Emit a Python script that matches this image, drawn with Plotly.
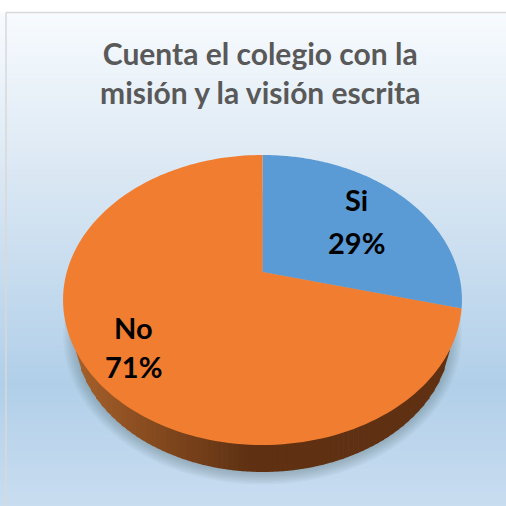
import numpy as np
import plotly.graph_objects as go

title_lines = ["Cuenta el colegio con la", "misión y la visión escrita"]
categories = ["Si", "No"]
values = [29, 71]
slice_colors = ["#5B9BD5", "#F07D30"]

# perspective pie, all in page pixels
cx, apex_y = 262.5, 272
rx = 195.7
persp = 0.193
y_a = -87.1


def rim(theta):
    # theta clockwise from the top of the pie
    u, v = np.sin(theta), np.cos(theta)
    d = persp * v + 1
    return cx + rx * u / d, (y_a * v + apex_y) / d


def ellipse(ex, ey, erx, ery):
    t = np.linspace(0, 2 * np.pi, 200)
    return ex + erx * np.cos(t), ey + ery * np.sin(t)


fig = go.Figure()

# background gradient
grad_y = np.arange(13, 507)
fig.add_trace(go.Heatmap(
    x=[6, 506], y=grad_y,
    z=[[yy, yy] for yy in grad_y],
    zmin=13, zmax=506,
    colorscale=[[0, "#F7FBFE"], [0.3, "#DDE9F4"], [0.75, "#B1CFE9"], [1, "#C9DDF0"]],
    zsmooth="best", showscale=False, hoverinfo="skip",
))

# soft shadow under the pie
for i in range(8):
    sx, sy = ellipse(cx, 336, 188 + i * 1.6, 138 + i * 1.5)
    fig.add_trace(go.Scatter(x=sx, y=sy, mode="none", fill="toself",
                             fillcolor="rgba(70,85,100,0.045)", hoverinfo="skip"))

# side of the pie: strips between the bottom ellipse and the rim
edges = np.linspace(76, 449, 75)
for a, b in zip(edges[:-1], edges[1:]):
    xs = np.array([a, b])
    bottom = 334 + 138 * np.sqrt(np.clip(1 - ((xs - cx) / 188) ** 2, 0, 1))
    top = 300 + 145 * np.sqrt(np.clip(1 - ((xs - cx) / 199.5) ** 2, 0, 1)) - 3
    f = min(max((a - 76) / 170, 0), 1)
    col = "rgb(%d,%d,%d)" % (165 - 70 * f, 95 - 46 * f, 42 - 24 * f)
    fig.add_trace(go.Scatter(x=[a, b + 0.6, b + 0.6, a], y=[top[0], top[1], bottom[1], bottom[0]],
                             mode="none", fill="toself", fillcolor=col, hoverinfo="skip"))

# top face slices
total = sum(values)
start = 0
for name, val, col in zip(categories, values, slice_colors):
    th = np.linspace(start, start + val / total, 160) * 2 * np.pi
    rx_pts, ry_pts = rim(th)
    fig.add_trace(go.Scatter(x=[cx, *rx_pts, cx], y=[apex_y, *ry_pts, apex_y],
                             mode="none", fill="toself", fillcolor=col, name=name,
                             hoverinfo="skip"))
    start += val / total

annotations = [dict(x=260, y=72, xref="x", yref="y",
                    text="<br>".join(title_lines), showarrow=False,
                    font=dict(family="Lato", size=30, color="#595959", weight="bold"))]
label_pos = [(356, 199, 242), (133, 327, 366)]
for name, val, (lx, ly1, ly2) in zip(categories, values, label_pos):
    for txt, ly in ((name, ly1), (f"{val}%", ly2)):
        annotations.append(dict(x=lx, y=ly, xref="x", yref="y", text=txt, showarrow=False,
                                font=dict(family="Lato", size=29, color="#000000", weight="bold")))

fig.update_layout(
    width=506, height=506,
    margin=dict(l=0, r=0, t=0, b=0),
    paper_bgcolor="#FFFFFF", plot_bgcolor="#FFFFFF",
    showlegend=False,
    xaxis=dict(range=[0, 506], visible=False, fixedrange=True),
    yaxis=dict(range=[506, 0], visible=False, fixedrange=True),
    annotations=annotations,
    shapes=[
        dict(type="line", x0=6, x1=6, y0=12.5, y1=506, line=dict(color="#D9D9D9", width=1.5)),
        dict(type="line", x0=6, x1=506, y0=12.5, y1=12.5, line=dict(color="#D9D9D9", width=1.5)),
    ],
)

# the browser's default body margin would push the chart off the page
fig.write_html("out.html", config=dict(displayModeBar=False),
               post_script="document.body.style.margin='0';document.documentElement.style.overflow='hidden';")
